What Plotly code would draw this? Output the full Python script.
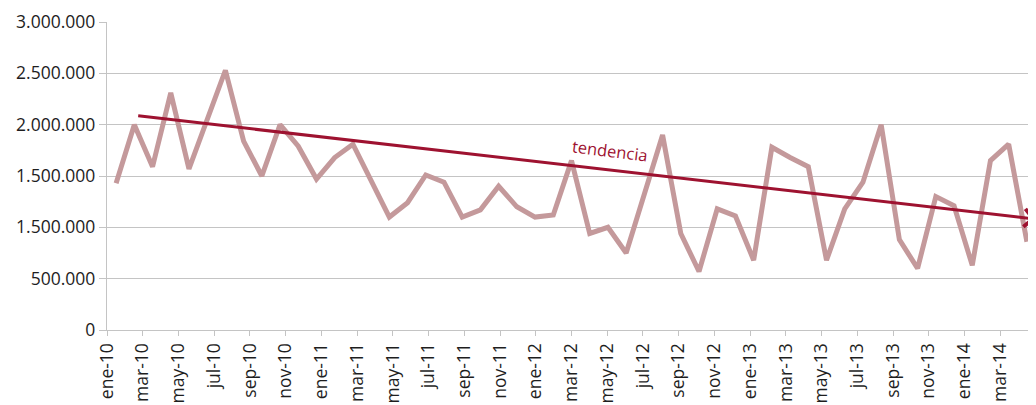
import plotly.graph_objects as go

# Monthly series (ene-10 .. mar-14)
months = [f"{m}-{y}" for y in ["10", "11", "12", "13", "14"]
          for m in ["ene", "feb", "mar", "abr", "may", "jun", "jul", "ago", "sep", "oct", "nov", "dic"]][:51]
values = [1430000, 2000000, 1590000, 2310000, 1570000, 2040000, 2530000, 1840000, 1500000, 2000000,
          1790000, 1470000, 1680000, 1810000, 1450000, 1100000, 1240000, 1510000, 1440000, 1100000,
          1170000, 1400000, 1200000, 1100000, 1120000, 1650000, 940000, 1000000, 750000, 1330000,
          1900000, 940000, 570000, 1180000, 1110000, 680000, 1780000, 1680000, 1590000, 680000,
          1180000, 1440000, 2000000, 880000, 600000, 1300000, 1210000, 630000, 1650000, 1810000,
          860000]

# Trend line: start/end month position and value
trend_x = [1.13, 50.5]
trend_y = [2088000, 1080000]

# Axis ticks
x_tick_labels = ["ene-10", "mar-10", "may-10", "jul-10", "sep-10", "nov-10",
                 "ene-11", "mar-11", "may-11", "jul-11", "sep-11", "nov-11",
                 "ene-12", "mar-12", "may-12", "jul-12", "sep-12", "nov-12",
                 "ene-13", "mar-13", "may-13", "jul-13", "sep-13", "nov-13",
                 "ene-14", "mar-14"]
y_tick_vals = [0, 500000, 1000000, 1500000, 2000000, 2500000, 3000000]
y_tick_text = ["0", "500.000", "1.500.000", "1.500.000", "2.000.000", "2.500.000", "3.000.000"]

FONT = "Open Sans"
GRID = "#c4c4c4"
DATA_COLOR = "#c4999b"
TREND_COLOR = "#9e1230"
TEXT = "#1e1e1e"

fig = go.Figure()
fig.add_trace(go.Scatter(
    x=list(range(len(values))), y=values, mode="lines",
    line=dict(color=DATA_COLOR, width=5),
    customdata=months, hovertemplate="%{customdata}: %{y:,.0f}<extra></extra>",
    showlegend=False,
))
# empty trace so the label axis (x2) gets drawn
fig.add_trace(go.Scatter(x=[None], y=[None], xaxis="x2", yaxis="y", mode="lines",
                         showlegend=False, hoverinfo="skip"))

fig.add_annotation(
    x=trend_x[1], y=trend_y[1], xref="x", yref="y",
    ax=trend_x[0], ay=trend_y[0], axref="x", ayref="y",
    text="", showarrow=True, arrowhead=4, arrowsize=1.15, arrowwidth=3,
    arrowcolor=TREND_COLOR, standoff=0, startstandoff=0,
)
fig.add_annotation(
    x=27.1, y=1750000, xref="x", yref="y", text="tendencia", showarrow=False,
    textangle=7, font=dict(family=FONT, size=16.5, color=TREND_COLOR),
)

# page body has an 8px default margin, so the figure is sized to end at the window edge
fig.update_layout(
    width=1028, height=397,
    margin=dict(l=99, r=0, t=14, b=75, autoexpand=False),
    paper_bgcolor="white", plot_bgcolor="white",
    font=dict(family=FONT, size=17.5, color=TEXT),
    xaxis=dict(
        range=[-0.5, len(values) - 0.5], showgrid=False, zeroline=False,
        showticklabels=False, ticks="", showline=False,
    ),
    xaxis2=dict(
        overlaying="x", anchor="y", side="bottom",
        range=[0, 52], tickmode="array",
        tickvals=[2 * k for k in range(len(x_tick_labels))],
        ticktext=x_tick_labels, tickangle=-90,
        ticks="outside", ticklen=5, tickcolor=GRID, tickwidth=1.3,
        showline=True, linecolor=GRID, linewidth=1.3,
        showgrid=False, zeroline=False,
        tickfont=dict(family=FONT, size=17.5, color=TEXT),
    ),
    yaxis=dict(
        range=[0, 3000000], tickmode="array", tickvals=y_tick_vals, ticktext=y_tick_text,
        showgrid=True, gridcolor=GRID, gridwidth=1.3, zeroline=False,
        ticks="outside", ticklen=7, tickcolor=GRID, tickwidth=1.3,
        showline=True, linecolor=GRID, linewidth=1.3,
        tickfont=dict(family=FONT, size=17.5, color=TEXT),
    ),
)

fig.write_html("out.html")
